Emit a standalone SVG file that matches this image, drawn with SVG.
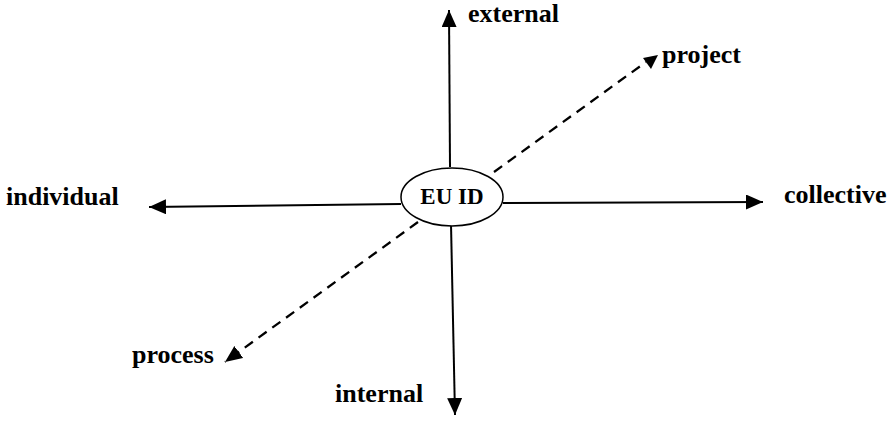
<svg xmlns="http://www.w3.org/2000/svg" width="890" height="421" viewBox="0 0 890 421">
<style>
.ln{stroke:#000;stroke-width:2;fill:none}
.ds{stroke:#000;stroke-width:2.3;fill:none;stroke-dasharray:10 7}
.t{font-family:"Liberation Serif","Times New Roman",serif;font-weight:bold;font-size:26px;fill:#000}
</style>
<defs>
<marker id="ah" markerUnits="userSpaceOnUse" markerWidth="18" markerHeight="16" refX="17" refY="7.5" orient="auto" viewBox="0 0 18 16">
<path d="M0,0 L17,7.5 L0,15 z" fill="#000"/>
</marker>
</defs>
<g id="connectors">
<path class="ln" d="M450,167 L449,10" marker-end="url(#ah)"/>
<path class="ln" d="M451,224 L455,415" marker-end="url(#ah)"/>
<path class="ln" d="M401,204 L149,207" marker-end="url(#ah)"/>
<path class="ln" d="M503,203 L763,202" marker-end="url(#ah)"/>
<path class="ds" d="M494,172 L646,62"/>
<polygon points="643,58 658,55 651,69" fill="#000"/>
<path class="ds" d="M418,222 L225,362" marker-end="url(#ah)"/>
</g>
<g id="center">
<ellipse cx="452" cy="197" rx="51" ry="29" fill="#fff" stroke="#000" stroke-width="1.5"/>
<text class="t" x="452" y="204" text-anchor="middle" style="font-size:23px">EU ID</text>
</g>
<g id="external"><text class="t" x="468" y="22">external</text></g>
<g id="project"><text class="t" x="662" y="63">project</text></g>
<g id="individual"><text class="t" x="6" y="205">individual</text></g>
<g id="collective"><text class="t" x="784" y="203">collective</text></g>
<g id="process"><text class="t" x="132" y="363">process</text></g>
<g id="internal"><text class="t" x="335" y="402">internal</text></g>
</svg>
